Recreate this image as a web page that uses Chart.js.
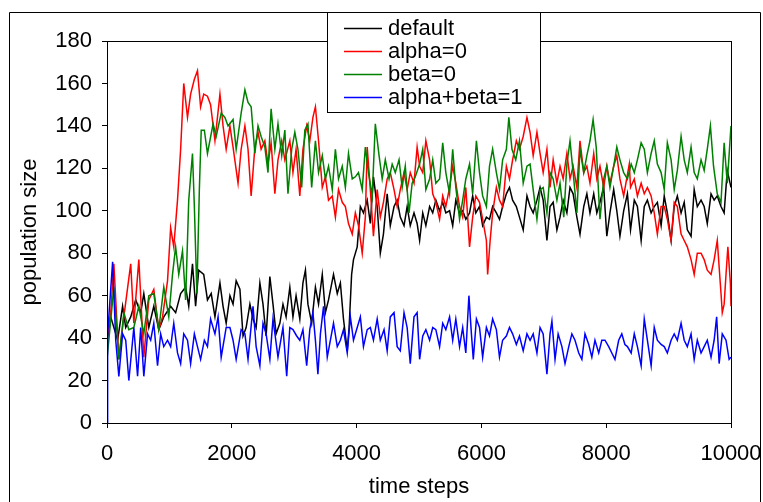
<!DOCTYPE html>
<html><head><meta charset="utf-8">
<script src="https://cdn.jsdelivr.net/npm/chart.js@4/dist/chart.umd.min.js"></script>
<style>html,body{margin:0;padding:0;background:#fff;}canvas{display:block;}</style>
</head><body>
<canvas id="c" width="763" height="502"></canvas>
<script>
const seriesNames = ['default', 'alpha=0', 'beta=0', 'alpha+beta=1'];
const seriesColors = ['#000000', '#ff0000', '#008000', '#0000ff'];

const defaultSteps = [
0,60,170,250,300,380,460,540,590,670,
750,830,910,1020,1100,1180,1260,1310,1370,1420,
1470,1550,1610,1670,1730,1810,1860,1910,1970,2020,
2070,2130,2180,2230,2290,2340,2390,2450,2500,2550,
2610,2660,2710,2770,2820,2870,2930,2980,3030,3090,
3140,3180,3220,3280,3340,3390,3450,3500,3550,3630,
3690,3740,3790,3850,3880,3920,3950,4010,4060,4110,
4170,4220,4270,4330,4380,4430,4490,4540,4600,4650,
4700,4760,4810,4860,4920,4970,5010,5060,5110,5170,
5220,5270,5330,5380,5430,5490,5540,5590,5650,5700,
5750,5810,5860,5910,5970,6020,6080,6130,6180,6240,
6290,6340,6400,6450,6500,6560,6610,6670,6730,6780,
6830,6890,6940,6990,7050,7100,7150,7210,7260,7310,
7370,7420,7470,7530,7580,7640,7690,7740,7800,7850,
7900,7960,8010,8060,8120,8170,8220,8280,8340,8390,
8450,8500,8560,8610,8660,8720,8770,8820,8880,8930,
8980,9040,9090,9140,9200,9250,9300,9360,9410,9460,
9520,9570,9620,9680,9730,9780,9840,9890,9940,10000];
const defaultValues = [
38,50,39,55,45,50,58,52,61,45,
55,44,50,55,52,61,64,55,75,55,
72,70,58,61,50,66,55,47,60,56,
67,63,41,45,56,49,45,66,56,41,
69,56,42,47,56,50,64,50,60,49,
66,72,56,47,64,56,70,52,58,70,
61,66,49,34,45,70,77,83,102,99,
105,94,116,102,80,89,108,93,102,105,
97,93,102,93,99,94,86,99,93,102,
99,105,100,104,99,100,93,105,99,100,
96,99,107,99,102,93,97,96,102,99,
96,102,108,111,105,102,97,91,107,102,
99,105,111,105,86,102,104,91,97,105,
99,111,108,97,89,102,108,99,108,99,
104,111,88,99,110,100,88,100,108,91,
105,102,86,102,105,99,102,104,93,107,
99,86,102,107,99,104,91,88,110,102,
105,102,94,108,105,107,102,99,119,111];

const alphaSteps = [
0,60,110,190,270,380,430,510,590,670,
750,830,890,970,1020,1070,1130,1180,1230,1290,
1340,1400,1450,1500,1550,1610,1660,1730,1810,1860,
1910,1970,2020,2100,2150,2210,2260,2310,2370,2420,
2470,2530,2580,2630,2690,2740,2800,2850,2930,2980,
3030,3090,3140,3200,3250,3300,3340,3390,3450,3500,
3550,3610,3660,3710,3770,3820,3870,3930,3980,4030,
4090,4140,4170,4220,4270,4330,4380,4430,4490,4540,
4600,4650,4700,4760,4810,4860,4920,4970,5010,5060,
5110,5170,5220,5270,5330,5380,5430,5490,5540,5590,
5650,5700,5750,5810,5860,5910,5970,6020,6080,6100,
6140,6180,6240,6290,6340,6400,6450,6500,6560,6610,
6670,6730,6780,6830,6890,6940,6990,7050,7100,7150,
7210,7260,7310,7370,7420,7470,7530,7580,7640,7690,
7740,7800,7850,7900,7960,8010,8060,8120,8170,8220,
8280,8370,8390,8450,8500,8560,8610,8660,8720,8770,
8820,8880,8930,8980,9040,9090,9140,9200,9250,9300,
9360,9410,9460,9520,9570,9620,9680,9730,9780,9840,
9860,9890,9920,9950,9990,10000];
const alphaValues = [
40,52,75,30,50,75,47,77,31,58,
63,44,50,67,92,83,105,129,160,144,
155,162,166,149,155,154,150,133,155,140,
129,140,130,113,129,140,129,107,130,137,
129,133,122,132,108,124,133,124,133,118,
129,107,129,140,133,144,149,133,111,116,
105,107,97,110,104,102,94,89,99,93,
80,97,130,110,88,110,97,104,115,118,
110,102,110,118,110,118,113,130,121,118,
133,124,108,104,96,107,102,111,121,113,
102,97,111,83,97,107,104,96,86,70,
86,99,111,105,102,121,115,124,133,129,
135,144,137,126,137,127,118,129,111,124,
113,121,115,127,115,121,111,133,118,121,
113,127,115,121,111,121,113,121,126,115,
107,122,111,115,107,113,108,111,107,99,
89,102,102,96,86,104,102,89,86,83,
77,70,80,80,77,72,70,77,86,61,
52,56,70,83,66,55];

const betaSteps = [
0,110,190,270,350,430,510,590,670,750,
830,910,990,1050,1100,1150,1210,1260,1310,1370,
1400,1440,1480,1510,1560,1610,1700,1750,1830,1890,
1940,2020,2070,2150,2210,2260,2310,2370,2420,2470,
2530,2580,2630,2690,2740,2800,2850,2900,2960,3010,
3060,3120,3170,3220,3280,3340,3390,3450,3500,3550,
3610,3660,3710,3770,3820,3870,3930,3980,4030,4090,
4140,4190,4250,4300,4360,4410,4460,4520,4570,4620,
4680,4730,4780,4840,4890,4940,5010,5060,5110,5170,
5220,5270,5330,5380,5430,5490,5540,5590,5650,5700,
5750,5810,5860,5920,5970,6020,6080,6130,6180,6240,
6290,6340,6400,6440,6490,6550,6610,6670,6730,6780,
6830,6890,6940,6990,7050,7100,7150,7210,7260,7320,
7370,7420,7480,7530,7580,7640,7690,7740,7790,7840,
7900,7960,8010,8060,8120,8170,8220,8280,8340,8400,
8450,8500,8560,8610,8660,8720,8770,8820,8880,8930,
8980,9040,9090,9140,9200,9250,9300,9360,9410,9460,
9520,9570,9620,9670,9720,9780,9840,9890,9940,10000];
const betaValues = [
30,64,30,52,44,45,55,42,60,61,
44,64,50,70,83,70,81,58,105,127,
102,61,110,138,138,127,141,135,146,144,
140,143,129,146,157,151,149,127,140,135,
130,118,148,129,141,126,138,108,129,137,
129,111,138,141,111,133,118,126,115,121,
110,129,115,121,111,127,115,116,118,110,
130,118,107,141,126,115,124,115,122,118,
124,111,121,99,113,116,122,129,110,115,
124,113,115,132,118,108,129,111,96,105,
115,122,108,133,118,107,102,121,129,118,
110,124,129,144,129,124,133,113,121,122,
110,96,110,111,99,118,115,105,113,97,
122,133,115,99,129,118,126,133,143,130,
96,115,121,111,121,130,124,118,115,122,
118,124,132,129,118,127,133,122,118,110,
132,124,110,119,135,124,118,130,118,115,
124,119,129,140,121,108,104,132,113,140];

const sumSteps = [
0,10,90,140,190,250,300,350,430,490,
540,590,650,700,750,810,860,910,970,1020,
1070,1130,1180,1230,1290,1340,1400,1450,1500,1560,
1610,1660,1730,1780,1830,1910,1970,2020,2070,2150,
2210,2260,2340,2390,2450,2500,2550,2610,2660,2740,
2820,2880,2930,2980,3040,3090,3140,3200,3250,3300,
3340,3380,3420,3470,3530,3580,3630,3690,3740,3790,
3850,3900,3950,4010,4060,4110,4170,4220,4270,4330,
4380,4440,4490,4540,4600,4650,4700,4760,4810,4860,
4920,4970,5010,5060,5110,5170,5220,5270,5330,5380,
5430,5490,5540,5590,5650,5700,5750,5800,5840,5870,
5920,5970,6020,6080,6130,6180,6240,6290,6340,6400,
6450,6500,6560,6610,6670,6730,6780,6830,6890,6940,
6990,7050,7100,7130,7180,7230,7290,7340,7400,7450,
7500,7560,7610,7660,7720,7770,7820,7880,7930,7980,
8040,8090,8140,8200,8250,8300,8340,8400,8450,8500,
8560,8610,8660,8720,8770,8820,8880,8930,8980,9040,
9090,9140,9200,9250,9300,9360,9410,9460,9520,9570,
9620,9680,9730,9770,9810,9860,9920,9970,10000];
const sumValues = [
0,42,76,39,22,42,39,20,45,22,
45,22,42,39,47,27,42,36,39,36,
47,33,28,42,39,28,42,36,30,39,
36,49,42,50,31,45,45,39,30,44,
42,30,55,36,27,47,42,30,49,31,
45,22,45,44,41,39,44,27,44,52,
39,23,42,55,31,39,47,36,39,44,
33,50,39,45,50,36,44,45,39,49,
39,44,34,50,52,36,34,52,45,28,
50,52,30,41,44,39,45,44,36,47,
44,50,39,49,36,45,33,60,42,30,
49,45,31,45,41,49,44,31,39,41,
45,42,37,41,34,42,39,42,33,45,
42,23,42,48,30,42,36,28,36,42,
39,33,30,42,37,31,39,33,39,39,
36,33,30,39,42,37,36,33,42,36,
27,49,39,27,45,39,37,36,33,39,
42,39,47,39,36,42,30,39,33,36,
39,31,39,50,28,42,39,30,31];

const stepLists = [defaultSteps, alphaSteps, betaSteps, sumSteps];
const valueLists = [defaultValues, alphaValues, betaValues, sumValues];

Chart.defaults.font.family = '"Liberation Sans", Arial, sans-serif';
Chart.defaults.color = '#000';

const datasets = seriesNames.map((name, i) => ({
  label: name,
  data: stepLists[i].map((s, k) => ({x: s, y: valueLists[i][k]})),
  borderColor: seriesColors[i],
  backgroundColor: seriesColors[i],
  borderWidth: 1.5,
  pointRadius: 0,
  tension: 0,
  fill: false,
  order: 4 - i
}));

const framePlugin = {
  id: 'frame',
  beforeDraw(chart) {
    const ctx = chart.ctx;
    ctx.save();
    ctx.fillStyle = '#fff';
    ctx.fillRect(0, 0, chart.width, chart.height);
    ctx.restore();
  },
  afterDraw(chart) {
    const ctx = chart.ctx;
    const a = chart.chartArea;
    ctx.save();
    ctx.strokeStyle = '#000';
    ctx.lineWidth = 1;
    ctx.strokeRect(Math.round(a.left) + 0.5, Math.round(a.top) + 0.5,
      Math.round(a.right - a.left), Math.round(a.bottom - a.top));
    ctx.beginPath();
    ctx.moveTo(9.5, chart.height + 2);
    ctx.lineTo(9.5, 12.5);
    ctx.lineTo(760.5, 12.5);
    ctx.lineTo(760.5, chart.height + 2);
    ctx.stroke();
    const lx = 327, ly = 13, lw = 213, lh = 100;
    ctx.fillStyle = '#fff';
    ctx.fillRect(lx, ly, lw, lh);
    ctx.strokeStyle = '#000';
    ctx.strokeRect(lx + 0.5, ly - 0.5, lw, lh);
    ctx.font = '22px "Liberation Sans", Arial, sans-serif';
    ctx.textBaseline = 'middle';
    ctx.textAlign = 'left';
    chart.data.datasets.forEach((ds, i) => {
      const y = 28 + i * 23;
      ctx.beginPath();
      ctx.strokeStyle = ds.borderColor;
      ctx.lineWidth = 1.5;
      ctx.moveTo(344, y + 0.5);
      ctx.lineTo(382, y + 0.5);
      ctx.stroke();
      ctx.fillStyle = '#000';
      ctx.fillText(ds.label, 388, y + 1);
    });
    ctx.restore();
  }
};

new Chart(document.getElementById('c'), {
  type: 'line',
  data: { datasets },
  options: {
    responsive: false,
    animation: false,
    devicePixelRatio: 1,
    layout: { padding: { left: 0, right: 32, top: 41, bottom: 0 } },
    plugins: { legend: { display: false }, tooltip: { enabled: false } },
    scales: {
      x: {
        type: 'linear', min: 0, max: 10000,
        ticks: { stepSize: 2000, color: '#000', font: { size: 22 }, padding: 13, maxRotation: 0, autoSkip: false,
                 callback: v => String(v) },
        grid: { drawOnChartArea: false, drawTicks: true, tickLength: 5, color: '#000', lineWidth: 1 },
        border: { display: true, color: '#000', width: 1 },
        title: { display: true, text: 'time steps', color: '#000', font: { size: 22 }, padding: { top: 0, bottom: 2 } },
        afterFit(s) { s.height = 79; s.paddingLeft = 0; s.paddingRight = 0; }
      },
      y: {
        type: 'linear', min: 0, max: 180,
        ticks: { stepSize: 20, color: '#000', font: { size: 22 }, padding: 10, callback: v => String(v) },
        grid: { drawOnChartArea: false, drawTicks: true, tickLength: 5, color: '#000', lineWidth: 1 },
        border: { display: true, color: '#000', width: 1 },
        title: { display: true, text: 'population size', color: '#000', font: { size: 22 }, padding: { top: 17, bottom: 0 } },
        afterFit(s) { s.width = 107; s.paddingTop = 0; s.paddingBottom = 0; }
      }
    }
  },
  plugins: [framePlugin]
});
</script>
</body></html>
